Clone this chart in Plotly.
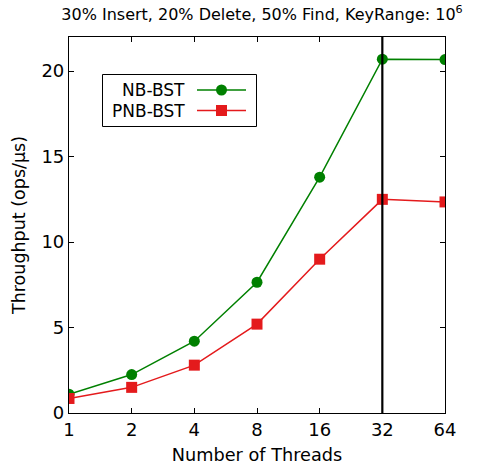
import plotly.graph_objects as go

threads = [1, 2, 4, 8, 16, 32, 64]
tick_labels = ["1", "2", "4", "8", "16", "32", "64"]
nb_bst = [1.1, 2.25, 4.2, 7.65, 13.8, 20.7, 20.68]
pnb_bst = [0.85, 1.5, 2.8, 5.2, 9.0, 12.5, 12.35]
series_names = ["NB-BST", "PNB-BST"]
marker_line_x = [32, 32]
y_range = [0, 22]

GREEN = "#008000"
RED = "#e41a1c"
FONT = "DejaVu Sans"

W, H = 479, 468
L, R, T, B = 69, 34, 37, 55
pw, ph = W - L - R, H - T - B

fig = go.Figure()
fig.add_trace(go.Scatter(x=threads, y=nb_bst, mode="lines+markers", name=series_names[0],
                         line=dict(color=GREEN, width=1.5),
                         marker=dict(symbol="circle", size=11, color=GREEN), showlegend=False))
fig.add_trace(go.Scatter(x=threads, y=pnb_bst, mode="lines+markers", name=series_names[1],
                         line=dict(color=RED, width=1.5),
                         marker=dict(symbol="square", size=11, color=RED), showlegend=False))
fig.add_trace(go.Scatter(x=marker_line_x, y=y_range, mode="lines",
                         line=dict(color="black", width=2.2), showlegend=False, hoverinfo="skip"))

def px2paper_x(px):
    return (px - L) / pw

def px2paper_y(py):
    return (H - B - py) / ph

shapes = []
annotations = []
# legend box
shapes.append(dict(type="rect", xref="paper", yref="paper",
                   x0=px2paper_x(102.5), x1=px2paper_x(256.5),
                   y0=px2paper_y(126.5), y1=px2paper_y(74.5),
                   line=dict(color="black", width=1), fillcolor="white", layer="above"))
rows = [(90, GREEN, "circle"), (110.5, RED, "square")]
for (py, col, sym), name in zip(rows, series_names):
    yp = px2paper_y(py)
    annotations.append(dict(text=name, xref="paper", yref="paper", x=px2paper_x(187), y=yp,
                            xanchor="right", yanchor="middle", showarrow=False,
                            font=dict(family=FONT, size=17, color="black")))
    shapes.append(dict(type="line", xref="paper", yref="paper",
                       x0=px2paper_x(197), x1=px2paper_x(246), y0=yp, y1=yp,
                       line=dict(color=col, width=1.5), layer="above"))
    shapes.append(dict(type="circle" if sym == "circle" else "rect",
                       xref="paper", yref="paper", xsizemode="pixel", ysizemode="pixel",
                       xanchor=px2paper_x(221.5), yanchor=yp,
                       x0=-5.5, x1=5.5, y0=-5.5, y1=5.5,
                       line=dict(color=col, width=0), fillcolor=col, layer="above"))

fig.update_layout(
    width=W, height=H,
    margin=dict(l=L, r=R, t=T, b=B, autoexpand=False),
    paper_bgcolor="white", plot_bgcolor="white",
    font=dict(family=FONT, size=17, color="black"),
    title=dict(text="30% Insert, 20% Delete, 50% Find, KeyRange: 10<sup>6</sup>",
               x=(L + pw / 2 + 5) / W, xanchor="center", y=1 - 14 / H, yanchor="middle",
               font=dict(family=FONT, size=16, color="black")),
    shapes=shapes, annotations=annotations,
)
fig.update_xaxes(type="log", range=[0, 1.80618], tickvals=threads, ticktext=tick_labels,
                 ticks="inside", ticklen=5, tickcolor="black", tickwidth=1,
                 showline=True, linecolor="black", linewidth=1.2, mirror="ticks",
                 showgrid=False, zeroline=False, automargin=False,
                 title=dict(text="Number of Threads", font=dict(family=FONT, size=17.7), standoff=9),
                 tickfont=dict(family=FONT, size=18))
fig.update_yaxes(range=y_range, tickvals=[0, 5, 10, 15, 20],
                 ticks="inside", ticklen=5, tickcolor="black", tickwidth=1,
                 showline=True, linecolor="black", linewidth=1.2, mirror="ticks",
                 showgrid=False, zeroline=False, automargin=False,
                 title=dict(text="Throughput (ops/μs)", font=dict(family=FONT, size=17.5), standoff=11),
                 tickfont=dict(family=FONT, size=18))

fig.write_html("out.html")
